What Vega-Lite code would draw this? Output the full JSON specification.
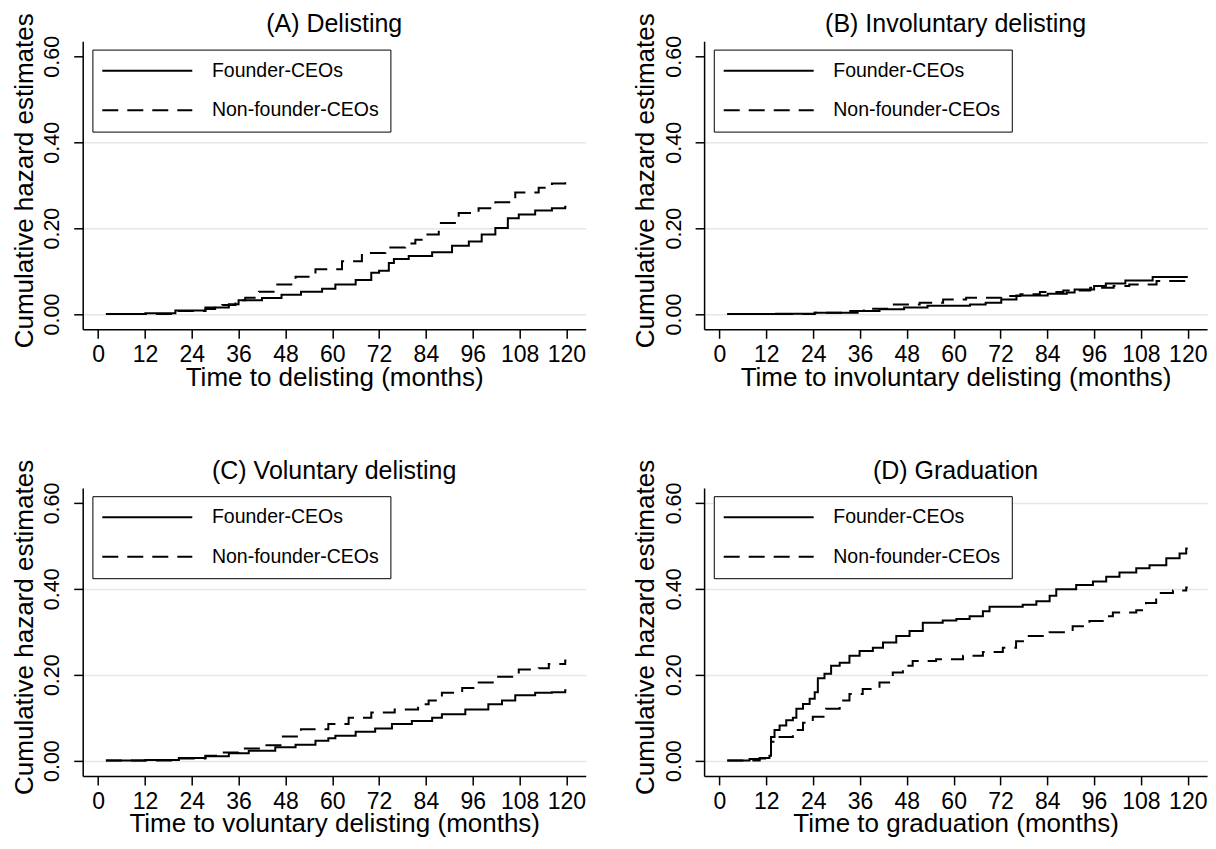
{
  "$schema": "https://vega.github.io/schema/vega-lite/v6.json",
  "padding": {"left": 10.7, "top": 12.3, "right": 0, "bottom": 0},
  "background": "white",
  "columns": 2,
  "spacing": {"row": 158.6, "column": 118.4},
  "bounds": "flush",
  "resolve": {"scale": {"strokeDash": "independent", "x": "independent", "y": "independent"}, "legend": {"strokeDash": "independent"}, "axis": {"x": "independent", "y": "independent"}},
  "datasets": {
    "A": [
      {"month": 2, "hazard": 0, "group": "Founder-CEOs"},
      {"month": 12.1, "hazard": 0.0015, "group": "Founder-CEOs"},
      {"month": 19.8, "hazard": 0.008, "group": "Founder-CEOs"},
      {"month": 27.5, "hazard": 0.0115, "group": "Founder-CEOs"},
      {"month": 30, "hazard": 0.015, "group": "Founder-CEOs"},
      {"month": 33.5, "hazard": 0.023, "group": "Founder-CEOs"},
      {"month": 36, "hazard": 0.032, "group": "Founder-CEOs"},
      {"month": 42, "hazard": 0.037, "group": "Founder-CEOs"},
      {"month": 47, "hazard": 0.045, "group": "Founder-CEOs"},
      {"month": 52, "hazard": 0.052, "group": "Founder-CEOs"},
      {"month": 57.4, "hazard": 0.059, "group": "Founder-CEOs"},
      {"month": 60.8, "hazard": 0.069, "group": "Founder-CEOs"},
      {"month": 66, "hazard": 0.079, "group": "Founder-CEOs"},
      {"month": 70, "hazard": 0.096, "group": "Founder-CEOs"},
      {"month": 72, "hazard": 0.101, "group": "Founder-CEOs"},
      {"month": 74.5, "hazard": 0.119, "group": "Founder-CEOs"},
      {"month": 75.8, "hazard": 0.128, "group": "Founder-CEOs"},
      {"month": 79.6, "hazard": 0.135, "group": "Founder-CEOs"},
      {"month": 85.6, "hazard": 0.144, "group": "Founder-CEOs"},
      {"month": 90.7, "hazard": 0.159, "group": "Founder-CEOs"},
      {"month": 95, "hazard": 0.169, "group": "Founder-CEOs"},
      {"month": 98.3, "hazard": 0.185, "group": "Founder-CEOs"},
      {"month": 101.8, "hazard": 0.2, "group": "Founder-CEOs"},
      {"month": 105, "hazard": 0.223, "group": "Founder-CEOs"},
      {"month": 107.8, "hazard": 0.232, "group": "Founder-CEOs"},
      {"month": 112, "hazard": 0.241, "group": "Founder-CEOs"},
      {"month": 116.3, "hazard": 0.246, "group": "Founder-CEOs"},
      {"month": 119.7, "hazard": 0.25, "group": "Founder-CEOs"},
      {"month": 120, "hazard": 0.25, "group": "Founder-CEOs"},
      {"month": 2, "hazard": 0, "group": "Non-founder-CEOs"},
      {"month": 19.8, "hazard": 0.007, "group": "Non-founder-CEOs"},
      {"month": 27.5, "hazard": 0.015, "group": "Non-founder-CEOs"},
      {"month": 31.8, "hazard": 0.021, "group": "Non-founder-CEOs"},
      {"month": 35.2, "hazard": 0.032, "group": "Non-founder-CEOs"},
      {"month": 37.7, "hazard": 0.038, "group": "Non-founder-CEOs"},
      {"month": 41.2, "hazard": 0.052, "group": "Non-founder-CEOs"},
      {"month": 45.4, "hazard": 0.069, "group": "Non-founder-CEOs"},
      {"month": 50.6, "hazard": 0.087, "group": "Non-founder-CEOs"},
      {"month": 55.7, "hazard": 0.104, "group": "Non-founder-CEOs"},
      {"month": 62.5, "hazard": 0.123, "group": "Non-founder-CEOs"},
      {"month": 67.6, "hazard": 0.142, "group": "Non-founder-CEOs"},
      {"month": 73.6, "hazard": 0.155, "group": "Non-founder-CEOs"},
      {"month": 78.7, "hazard": 0.164, "group": "Non-founder-CEOs"},
      {"month": 81.3, "hazard": 0.173, "group": "Non-founder-CEOs"},
      {"month": 83.9, "hazard": 0.185, "group": "Non-founder-CEOs"},
      {"month": 87.3, "hazard": 0.212, "group": "Non-founder-CEOs"},
      {"month": 92.4, "hazard": 0.235, "group": "Non-founder-CEOs"},
      {"month": 97.5, "hazard": 0.246, "group": "Non-founder-CEOs"},
      {"month": 101.8, "hazard": 0.26, "group": "Non-founder-CEOs"},
      {"month": 106.9, "hazard": 0.283, "group": "Non-founder-CEOs"},
      {"month": 112.9, "hazard": 0.294, "group": "Non-founder-CEOs"},
      {"month": 116.3, "hazard": 0.304, "group": "Non-founder-CEOs"},
      {"month": 119.7, "hazard": 0.31, "group": "Non-founder-CEOs"},
      {"month": 120, "hazard": 0.31, "group": "Non-founder-CEOs"}
    ],
    "B": [
      {"month": 2, "hazard": 0, "group": "Founder-CEOs"},
      {"month": 14.5, "hazard": 0.0005, "group": "Founder-CEOs"},
      {"month": 24.4, "hazard": 0.003, "group": "Founder-CEOs"},
      {"month": 35.4, "hazard": 0.007, "group": "Founder-CEOs"},
      {"month": 41, "hazard": 0.011, "group": "Founder-CEOs"},
      {"month": 47.3, "hazard": 0.015, "group": "Founder-CEOs"},
      {"month": 53.3, "hazard": 0.019, "group": "Founder-CEOs"},
      {"month": 64.2, "hazard": 0.022, "group": "Founder-CEOs"},
      {"month": 68.2, "hazard": 0.026, "group": "Founder-CEOs"},
      {"month": 72.2, "hazard": 0.034, "group": "Founder-CEOs"},
      {"month": 76.1, "hazard": 0.043, "group": "Founder-CEOs"},
      {"month": 84.1, "hazard": 0.047, "group": "Founder-CEOs"},
      {"month": 89, "hazard": 0.05, "group": "Founder-CEOs"},
      {"month": 91, "hazard": 0.057, "group": "Founder-CEOs"},
      {"month": 96, "hazard": 0.065, "group": "Founder-CEOs"},
      {"month": 99, "hazard": 0.071, "group": "Founder-CEOs"},
      {"month": 104, "hazard": 0.078, "group": "Founder-CEOs"},
      {"month": 111, "hazard": 0.086, "group": "Founder-CEOs"},
      {"month": 120, "hazard": 0.086, "group": "Founder-CEOs"},
      {"month": 2, "hazard": 0, "group": "Non-founder-CEOs"},
      {"month": 24.4, "hazard": 0.003, "group": "Non-founder-CEOs"},
      {"month": 31.4, "hazard": 0.007, "group": "Non-founder-CEOs"},
      {"month": 37, "hazard": 0.012, "group": "Non-founder-CEOs"},
      {"month": 43.3, "hazard": 0.022, "group": "Non-founder-CEOs"},
      {"month": 51.3, "hazard": 0.026, "group": "Non-founder-CEOs"},
      {"month": 57.3, "hazard": 0.034, "group": "Non-founder-CEOs"},
      {"month": 63.2, "hazard": 0.038, "group": "Non-founder-CEOs"},
      {"month": 72.2, "hazard": 0.042, "group": "Non-founder-CEOs"},
      {"month": 77.1, "hazard": 0.046, "group": "Non-founder-CEOs"},
      {"month": 82.1, "hazard": 0.051, "group": "Non-founder-CEOs"},
      {"month": 88.1, "hazard": 0.055, "group": "Non-founder-CEOs"},
      {"month": 95, "hazard": 0.061, "group": "Non-founder-CEOs"},
      {"month": 101, "hazard": 0.065, "group": "Non-founder-CEOs"},
      {"month": 105, "hazard": 0.069, "group": "Non-founder-CEOs"},
      {"month": 112, "hazard": 0.077, "group": "Non-founder-CEOs"},
      {"month": 120, "hazard": 0.077, "group": "Non-founder-CEOs"}
    ],
    "C": [
      {"month": 2, "hazard": 0, "group": "Founder-CEOs"},
      {"month": 12.1, "hazard": 0.0015, "group": "Founder-CEOs"},
      {"month": 20.7, "hazard": 0.006, "group": "Founder-CEOs"},
      {"month": 27.5, "hazard": 0.01, "group": "Founder-CEOs"},
      {"month": 33.5, "hazard": 0.017, "group": "Founder-CEOs"},
      {"month": 38.6, "hazard": 0.023, "group": "Founder-CEOs"},
      {"month": 45.4, "hazard": 0.031, "group": "Founder-CEOs"},
      {"month": 50.6, "hazard": 0.037, "group": "Founder-CEOs"},
      {"month": 55.7, "hazard": 0.046, "group": "Founder-CEOs"},
      {"month": 59, "hazard": 0.052, "group": "Founder-CEOs"},
      {"month": 60.8, "hazard": 0.058, "group": "Founder-CEOs"},
      {"month": 66, "hazard": 0.067, "group": "Founder-CEOs"},
      {"month": 71, "hazard": 0.075, "group": "Founder-CEOs"},
      {"month": 75.3, "hazard": 0.085, "group": "Founder-CEOs"},
      {"month": 80.4, "hazard": 0.092, "group": "Founder-CEOs"},
      {"month": 85.6, "hazard": 0.1, "group": "Founder-CEOs"},
      {"month": 88.1, "hazard": 0.108, "group": "Founder-CEOs"},
      {"month": 94.1, "hazard": 0.119, "group": "Founder-CEOs"},
      {"month": 100, "hazard": 0.131, "group": "Founder-CEOs"},
      {"month": 103.5, "hazard": 0.14, "group": "Founder-CEOs"},
      {"month": 106.9, "hazard": 0.152, "group": "Founder-CEOs"},
      {"month": 112, "hazard": 0.158, "group": "Founder-CEOs"},
      {"month": 116.3, "hazard": 0.159, "group": "Founder-CEOs"},
      {"month": 119.7, "hazard": 0.164, "group": "Founder-CEOs"},
      {"month": 120, "hazard": 0.164, "group": "Founder-CEOs"},
      {"month": 2, "hazard": 0, "group": "Non-founder-CEOs"},
      {"month": 20.7, "hazard": 0.005, "group": "Non-founder-CEOs"},
      {"month": 27.5, "hazard": 0.0115, "group": "Non-founder-CEOs"},
      {"month": 31.8, "hazard": 0.019, "group": "Non-founder-CEOs"},
      {"month": 36, "hazard": 0.028, "group": "Non-founder-CEOs"},
      {"month": 42, "hazard": 0.036, "group": "Non-founder-CEOs"},
      {"month": 47, "hazard": 0.056, "group": "Non-founder-CEOs"},
      {"month": 52, "hazard": 0.073, "group": "Non-founder-CEOs"},
      {"month": 59, "hazard": 0.085, "group": "Non-founder-CEOs"},
      {"month": 64.2, "hazard": 0.1, "group": "Non-founder-CEOs"},
      {"month": 70, "hazard": 0.112, "group": "Non-founder-CEOs"},
      {"month": 76, "hazard": 0.119, "group": "Non-founder-CEOs"},
      {"month": 82, "hazard": 0.131, "group": "Non-founder-CEOs"},
      {"month": 84.7, "hazard": 0.14, "group": "Non-founder-CEOs"},
      {"month": 88.1, "hazard": 0.158, "group": "Non-founder-CEOs"},
      {"month": 93.3, "hazard": 0.169, "group": "Non-founder-CEOs"},
      {"month": 96.7, "hazard": 0.182, "group": "Non-founder-CEOs"},
      {"month": 101.8, "hazard": 0.195, "group": "Non-founder-CEOs"},
      {"month": 107.8, "hazard": 0.212, "group": "Non-founder-CEOs"},
      {"month": 112.9, "hazard": 0.215, "group": "Non-founder-CEOs"},
      {"month": 115.5, "hazard": 0.225, "group": "Non-founder-CEOs"},
      {"month": 119.7, "hazard": 0.233, "group": "Non-founder-CEOs"},
      {"month": 120, "hazard": 0.233, "group": "Non-founder-CEOs"}
    ],
    "D": [
      {"month": 2, "hazard": 0, "group": "Founder-CEOs"},
      {"month": 7.7, "hazard": 0.004, "group": "Founder-CEOs"},
      {"month": 10.3, "hazard": 0.006, "group": "Founder-CEOs"},
      {"month": 12.8, "hazard": 0.0115, "group": "Founder-CEOs"},
      {"month": 13.2, "hazard": 0.055, "group": "Founder-CEOs"},
      {"month": 14.1, "hazard": 0.071, "group": "Founder-CEOs"},
      {"month": 15.4, "hazard": 0.082, "group": "Founder-CEOs"},
      {"month": 17.1, "hazard": 0.094, "group": "Founder-CEOs"},
      {"month": 18.8, "hazard": 0.1, "group": "Founder-CEOs"},
      {"month": 19.7, "hazard": 0.121, "group": "Founder-CEOs"},
      {"month": 21.4, "hazard": 0.132, "group": "Founder-CEOs"},
      {"month": 23.1, "hazard": 0.144, "group": "Founder-CEOs"},
      {"month": 24.4, "hazard": 0.159, "group": "Founder-CEOs"},
      {"month": 25.2, "hazard": 0.192, "group": "Founder-CEOs"},
      {"month": 26.9, "hazard": 0.202, "group": "Founder-CEOs"},
      {"month": 28.6, "hazard": 0.221, "group": "Founder-CEOs"},
      {"month": 30.8, "hazard": 0.228, "group": "Founder-CEOs"},
      {"month": 33.3, "hazard": 0.244, "group": "Founder-CEOs"},
      {"month": 35.9, "hazard": 0.255, "group": "Founder-CEOs"},
      {"month": 39.3, "hazard": 0.263, "group": "Founder-CEOs"},
      {"month": 41.9, "hazard": 0.275, "group": "Founder-CEOs"},
      {"month": 45.3, "hazard": 0.29, "group": "Founder-CEOs"},
      {"month": 48.7, "hazard": 0.302, "group": "Founder-CEOs"},
      {"month": 52.1, "hazard": 0.321, "group": "Founder-CEOs"},
      {"month": 57.2, "hazard": 0.326, "group": "Founder-CEOs"},
      {"month": 60.7, "hazard": 0.33, "group": "Founder-CEOs"},
      {"month": 64.1, "hazard": 0.336, "group": "Founder-CEOs"},
      {"month": 67.5, "hazard": 0.348, "group": "Founder-CEOs"},
      {"month": 69.2, "hazard": 0.358, "group": "Founder-CEOs"},
      {"month": 77.7, "hazard": 0.363, "group": "Founder-CEOs"},
      {"month": 81.2, "hazard": 0.371, "group": "Founder-CEOs"},
      {"month": 84.6, "hazard": 0.384, "group": "Founder-CEOs"},
      {"month": 86.3, "hazard": 0.399, "group": "Founder-CEOs"},
      {"month": 91.4, "hazard": 0.409, "group": "Founder-CEOs"},
      {"month": 95.7, "hazard": 0.417, "group": "Founder-CEOs"},
      {"month": 99.1, "hazard": 0.428, "group": "Founder-CEOs"},
      {"month": 102.5, "hazard": 0.438, "group": "Founder-CEOs"},
      {"month": 106.8, "hazard": 0.448, "group": "Founder-CEOs"},
      {"month": 110.2, "hazard": 0.455, "group": "Founder-CEOs"},
      {"month": 114.5, "hazard": 0.471, "group": "Founder-CEOs"},
      {"month": 117.9, "hazard": 0.482, "group": "Founder-CEOs"},
      {"month": 119.6, "hazard": 0.494, "group": "Founder-CEOs"},
      {"month": 120, "hazard": 0.494, "group": "Founder-CEOs"},
      {"month": 2, "hazard": 0, "group": "Non-founder-CEOs"},
      {"month": 10.3, "hazard": 0.005, "group": "Non-founder-CEOs"},
      {"month": 12.8, "hazard": 0.0115, "group": "Non-founder-CEOs"},
      {"month": 13.2, "hazard": 0.044, "group": "Non-founder-CEOs"},
      {"month": 15.4, "hazard": 0.055, "group": "Non-founder-CEOs"},
      {"month": 18.8, "hazard": 0.071, "group": "Non-founder-CEOs"},
      {"month": 21.4, "hazard": 0.088, "group": "Non-founder-CEOs"},
      {"month": 23.9, "hazard": 0.102, "group": "Non-founder-CEOs"},
      {"month": 27.3, "hazard": 0.121, "group": "Non-founder-CEOs"},
      {"month": 30.8, "hazard": 0.14, "group": "Non-founder-CEOs"},
      {"month": 33.3, "hazard": 0.155, "group": "Non-founder-CEOs"},
      {"month": 36.7, "hazard": 0.167, "group": "Non-founder-CEOs"},
      {"month": 41, "hazard": 0.182, "group": "Non-founder-CEOs"},
      {"month": 44.4, "hazard": 0.205, "group": "Non-founder-CEOs"},
      {"month": 47, "hazard": 0.221, "group": "Non-founder-CEOs"},
      {"month": 49.5, "hazard": 0.232, "group": "Non-founder-CEOs"},
      {"month": 55.5, "hazard": 0.236, "group": "Non-founder-CEOs"},
      {"month": 62.4, "hazard": 0.244, "group": "Non-founder-CEOs"},
      {"month": 67.5, "hazard": 0.253, "group": "Non-founder-CEOs"},
      {"month": 72.6, "hazard": 0.263, "group": "Non-founder-CEOs"},
      {"month": 76, "hazard": 0.278, "group": "Non-founder-CEOs"},
      {"month": 78.6, "hazard": 0.29, "group": "Non-founder-CEOs"},
      {"month": 84.6, "hazard": 0.299, "group": "Non-founder-CEOs"},
      {"month": 90.5, "hazard": 0.313, "group": "Non-founder-CEOs"},
      {"month": 94.8, "hazard": 0.325, "group": "Non-founder-CEOs"},
      {"month": 98.2, "hazard": 0.336, "group": "Non-founder-CEOs"},
      {"month": 100.8, "hazard": 0.345, "group": "Non-founder-CEOs"},
      {"month": 106.8, "hazard": 0.35, "group": "Non-founder-CEOs"},
      {"month": 109.3, "hazard": 0.367, "group": "Non-founder-CEOs"},
      {"month": 111.9, "hazard": 0.39, "group": "Non-founder-CEOs"},
      {"month": 116.2, "hazard": 0.396, "group": "Non-founder-CEOs"},
      {"month": 119.6, "hazard": 0.403, "group": "Non-founder-CEOs"},
      {"month": 120, "hazard": 0.403, "group": "Non-founder-CEOs"}
    ]
  },
  "concat": [
    {
      "title": "(A) Delisting",
      "width": 503, "height": 288,
      "data": {"name": "A"},
      "mark": {"type": "line", "interpolate": "step-after", "color": "black", "strokeWidth": 2},
      "encoding": {
        "x": {"field": "month", "type": "quantitative", "scale": {"domain": [-3.95, 124.95], "nice": false, "zero": false}, "axis": {"values": [0, 12, 24, 36, 48, 60, 72, 84, 96, 108, 120], "title": "Time to delisting (months)"}},
        "y": {"field": "hazard", "type": "quantitative", "scale": {"domain": [-0.0356, 0.635], "nice": false, "zero": false}, "axis": {"values": [0, 0.2, 0.4, 0.6], "format": ".2f", "title": "Cumulative hazard estimates", "gridColor": {"condition": {"test": "datum.value > 0.5", "value": "transparent"}, "value": "#e6e6e6"}}},
        "strokeDash": {"field": "group", "type": "nominal", "scale": {"domain": ["Founder-CEOs", "Non-founder-CEOs"], "range": [[1, 0], [16, 9]]}, "legend": {"title": null, "orient": "none", "legendX": 9.7, "legendY": 8.3}}
      }
    },
    {
      "title": "(B) Involuntary delisting",
      "width": 503, "height": 288,
      "data": {"name": "B"},
      "mark": {"type": "line", "interpolate": "step-after", "color": "black", "strokeWidth": 2},
      "encoding": {
        "x": {"field": "month", "type": "quantitative", "scale": {"domain": [-3.95, 124.95], "nice": false, "zero": false}, "axis": {"values": [0, 12, 24, 36, 48, 60, 72, 84, 96, 108, 120], "title": "Time to involuntary delisting (months)"}},
        "y": {"field": "hazard", "type": "quantitative", "scale": {"domain": [-0.0356, 0.635], "nice": false, "zero": false}, "axis": {"values": [0, 0.2, 0.4, 0.6], "format": ".2f", "title": "Cumulative hazard estimates", "gridColor": {"condition": {"test": "datum.value > 0.5", "value": "transparent"}, "value": "#e6e6e6"}}},
        "strokeDash": {"field": "group", "type": "nominal", "scale": {"domain": ["Founder-CEOs", "Non-founder-CEOs"], "range": [[1, 0], [16, 9]]}, "legend": {"title": null, "orient": "none", "legendX": 9.7, "legendY": 8.3}}
      }
    },
    {
      "title": "(C) Voluntary delisting",
      "width": 503, "height": 288,
      "data": {"name": "C"},
      "mark": {"type": "line", "interpolate": "step-after", "color": "black", "strokeWidth": 2},
      "encoding": {
        "x": {"field": "month", "type": "quantitative", "scale": {"domain": [-3.95, 124.95], "nice": false, "zero": false}, "axis": {"values": [0, 12, 24, 36, 48, 60, 72, 84, 96, 108, 120], "title": "Time to voluntary delisting (months)"}},
        "y": {"field": "hazard", "type": "quantitative", "scale": {"domain": [-0.0356, 0.635], "nice": false, "zero": false}, "axis": {"values": [0, 0.2, 0.4, 0.6], "format": ".2f", "title": "Cumulative hazard estimates", "gridColor": {"condition": {"test": "datum.value > 0.5", "value": "transparent"}, "value": "#e6e6e6"}}},
        "strokeDash": {"field": "group", "type": "nominal", "scale": {"domain": ["Founder-CEOs", "Non-founder-CEOs"], "range": [[1, 0], [16, 9]]}, "legend": {"title": null, "orient": "none", "legendX": 9.7, "legendY": 8.3}}
      }
    },
    {
      "title": "(D) Graduation",
      "width": 503, "height": 288,
      "data": {"name": "D"},
      "mark": {"type": "line", "interpolate": "step-after", "color": "black", "strokeWidth": 2},
      "encoding": {
        "x": {"field": "month", "type": "quantitative", "scale": {"domain": [-3.95, 124.95], "nice": false, "zero": false}, "axis": {"values": [0, 12, 24, 36, 48, 60, 72, 84, 96, 108, 120], "title": "Time to graduation (months)"}},
        "y": {"field": "hazard", "type": "quantitative", "scale": {"domain": [-0.0356, 0.635], "nice": false, "zero": false}, "axis": {"values": [0, 0.2, 0.4, 0.6], "format": ".2f", "title": "Cumulative hazard estimates", "gridColor": "#e6e6e6"}},
        "strokeDash": {"field": "group", "type": "nominal", "scale": {"domain": ["Founder-CEOs", "Non-founder-CEOs"], "range": [[1, 0], [16, 9]]}, "legend": {"title": null, "orient": "none", "legendX": 9.7, "legendY": 8.3}}
      }
    }
  ],
  "config": {
    "font": "Liberation Sans",
    "view": {"stroke": null},
    "axis": {
      "domainColor": "black", "domainWidth": 1.5, "tickColor": "black", "tickWidth": 1.5, "tickSize": 9,
      "labelColor": "black", "titleColor": "black", "titleFontWeight": "normal",
      "labelFlush": false, "labelOverlap": false, "labelBound": false
    },
    "axisX": {
      "grid": false, "labelFontSize": 23, "labelBaseline": "alphabetic", "labelPadding": 23.5,
      "titleFontSize": 26, "titleBaseline": "alphabetic", "titleY": 56, "titleX": 251.5, "titleAlign": "center", "titleAngle": 0
    },
    "axisY": {
      "grid": true, "gridWidth": 1.5, "labelFontSize": 21.5, "labelAngle": 270, "labelAlign": "center", "labelBaseline": "alphabetic", "labelPadding": 15,
      "titleFontSize": 26, "titleAngle": 270, "titleAlign": "center", "titleBaseline": "alphabetic", "titleX": -50.6, "titleY": 139
    },
    "title": {"fontSize": 25, "fontWeight": "normal", "frame": "group", "anchor": "middle", "baseline": "alphabetic", "offset": -24.7, "color": "black"},
    "legend": {
      "strokeColor": "black", "fillColor": "white", "padding": 11.4, "rowPadding": 18.5,
      "labelFontSize": 19.5, "labelColor": "black", "labelOffset": 54.85, "symbolOffset": 33.75,
      "symbolType": "M-10,0H10", "symbolSize": 81, "symbolStrokeWidth": 2, "symbolStrokeColor": "black", "symbolFillColor": "transparent",
      "labelLimit": 400
    }
  }
}
